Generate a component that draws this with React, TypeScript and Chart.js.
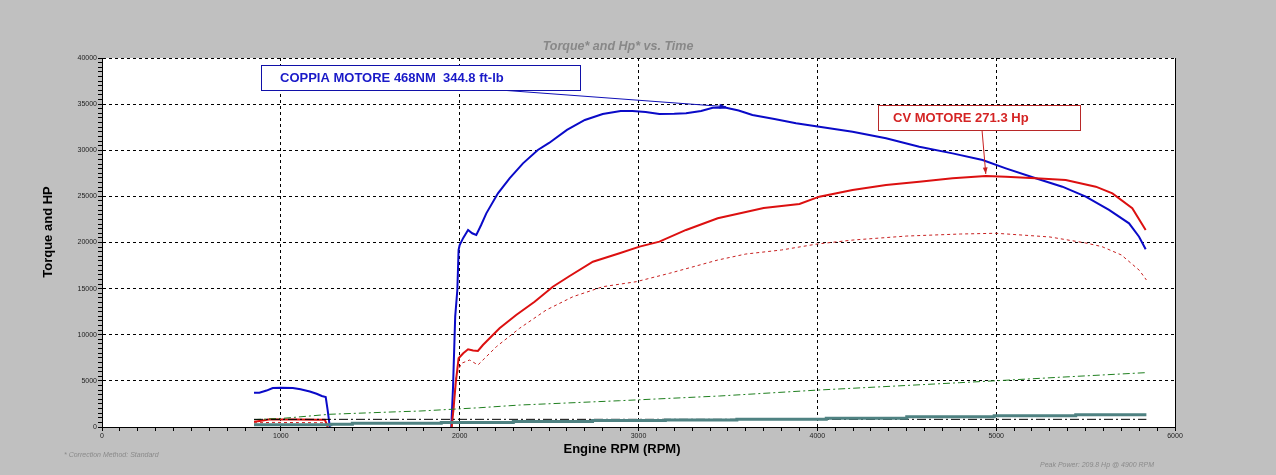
import { useEffect, useRef } from 'react';
import { Chart, registerables } from 'chart.js';

Chart.register(...registerables);

// axis ranges / tick steps
const X_MIN = 0;
const X_MAX = 6000;
const X_MINOR = 100;
const X_LABEL_STEP = 1000;
const Y_MIN = 0;
const Y_MAX = 40000;
const Y_MINOR = 500;
const Y_LABEL_STEP = 5000;

// blue: torque
const torqueRpm = [850, 880, 920, 955, 1000, 1067, 1110, 1162, 1200, 1229, 1251, 1262, 1274, 1600,
    1953, 1963, 1975, 1987, 1994, 2000, 2020, 2047, 2070, 2093, 2120, 2149, 2214, 2279, 2354, 2437,
    2500, 2600, 2700, 2800, 2900, 2966, 3040, 3117, 3200, 3266, 3350, 3415, 3490, 3560, 3637, 3760,
    3881, 4011, 4197, 4384, 4570, 4756, 4924, 5054, 5221, 5370, 5501, 5631, 5743, 5799, 5836];
const torqueVal = [3720, 3720, 3950, 4230, 4260, 4220, 4100, 3850, 3600, 3360, 3250, 1800, 0, null,
    0, 4370, 11960, 14850, 19190, 19730, 20500, 21360, 21000, 20810, 21900, 23160, 25330, 26960, 28580, 30030,
    30790, 32200, 33280, 33930, 34250, 34250, 34150, 33930, 33950, 34000, 34250, 34610, 34610, 34300, 33820, 33380,
    32920, 32550, 32010, 31290, 30380, 29660, 28940, 28040, 26960, 26050, 24970, 23530, 22080, 20630, 19260];

// red: horsepower
const hpRpm = [850, 900, 939, 1000, 1100, 1200, 1246, 1263, 1600,
    1955, 1965, 1978, 1994, 2020, 2047, 2075, 2102, 2130, 2223, 2316, 2419, 2521, 2615, 2745, 2894,
    3006, 3117, 3266, 3443, 3600, 3700, 3800, 3900, 4011, 4197, 4384, 4570, 4756, 4942, 5054, 5221,
    5389, 5557, 5650, 5761, 5836];
const hpVal = [575, 700, 830, 800, 800, 790, 780, 0, null,
    0, 1840, 4770, 7450, 8000, 8420, 8300, 8240, 8890, 10700, 12140, 13580, 15210, 16370, 17920, 18830,
    19550, 20090, 21360, 22620, 23300, 23740, 23960, 24170, 24970, 25690, 26230, 26590, 26960, 27210, 27130, 26960,
    26770, 26050, 25330, 23710, 21360];

// red dashed: second hp trace
const hp2Rpm = [850, 950, 1100, 1240, 1260, 1600,
    1958, 1978, 1990, 2009, 2056, 2102, 2205, 2335, 2484, 2633, 2801, 2987, 3173, 3443, 3600, 3800,
    4000, 4200, 4500, 4800, 5000, 5300, 5500, 5592, 5700, 5800, 5840];
const hp2Val = [450, 500, 480, 460, 0, null,
    0, 5200, 6000, 6900, 7260, 6720, 8700, 10700, 12680, 14120, 15210, 15750, 16660, 18100, 18750, 19190,
    19840, 20270, 20700, 20920, 21000, 20600, 19950, 19550, 18650, 17000, 15940];

// green dash-dot
const greenRpm = [850, 1011, 1274, 1665, 1777, 2112, 2335, 2894, 3453, 4000, 4793, 4978, 5352, 5836];
const greenVal = [800, 940, 1380, 1660, 1730, 2090, 2380, 2850, 3360, 4000, 4800, 4990, 5390, 5890];

// teal stepped
const tealRpm = [850, 1280, 1400, 1897, 2300, 2743, 3150, 3550, 4050, 4500, 4989, 5445, 5840];
const tealVal = [250, 290, 400, 500, 600, 700, 760, 830, 950, 1100, 1230, 1330, 1330];

// black dash-dot
const blackRpm = [850, 5840];
const blackVal = [830, 830];

const chartTitle = 'Torque* and Hp* vs. Time';
const xTitle = 'Engine RPM (RPM)';
const yTitle = 'Torque and HP';
const torqueNote = 'COPPIA MOTORE 468NM  344.8 ft-lb';
const hpNote = 'CV MOTORE 271.3 Hp';
const torquePeak = { x: 3490, y: 34610 };
const hpPeak = { x: 4942, y: 27210 };
const footLeft = '* Correction Method: Standard';
const footRight = 'Peak Power: 209.8 Hp @ 4900 RPM';

const pts = (xs: number[], ys: (number | null)[]) => xs.map((x, i) => ({ x, y: ys[i] }));

function arrow(ctx: CanvasRenderingContext2D, x1: number, y1: number, x2: number, y2: number, color: string) {
    const ang = Math.atan2(y2 - y1, x2 - x1);
    ctx.strokeStyle = color;
    ctx.fillStyle = color;
    ctx.lineWidth = 1;
    ctx.beginPath();
    ctx.moveTo(x1, y1);
    ctx.lineTo(x2, y2);
    ctx.stroke();
    ctx.beginPath();
    ctx.moveTo(x2, y2);
    ctx.lineTo(x2 - 7 * Math.cos(ang - 0.35), y2 - 7 * Math.sin(ang - 0.35));
    ctx.lineTo(x2 - 7 * Math.cos(ang + 0.35), y2 - 7 * Math.sin(ang + 0.35));
    ctx.closePath();
    ctx.fill();
}

const overlay = {
    id: 'overlay',
    beforeDraw(chart: Chart) {
        const { ctx, chartArea: a } = chart;
        ctx.save();
        ctx.fillStyle = '#ffffff';
        ctx.fillRect(a.left, a.top, a.right - a.left, a.bottom - a.top);
        ctx.restore();
    },
    afterDraw(chart: Chart) {
        const { ctx, chartArea: a, scales } = chart;
        const sx = scales.x;
        const sy = scales.y;
        ctx.save();

        // solid right edge
        ctx.strokeStyle = '#000';
        ctx.lineWidth = 1;
        ctx.beginPath();
        ctx.moveTo(a.right + 0.5, a.top);
        ctx.lineTo(a.right + 0.5, a.bottom);
        ctx.stroke();

        // titles
        ctx.textAlign = 'center';
        ctx.textBaseline = 'middle';
        ctx.fillStyle = '#888888';
        ctx.font = 'italic bold 12.5px "Liberation Sans"';
        ctx.fillText(chartTitle, 618, 47);

        ctx.fillStyle = '#000';
        ctx.font = 'bold 13px "Liberation Sans"';
        ctx.fillText(xTitle, 622, 449);

        ctx.save();
        ctx.translate(48, 232);
        ctx.rotate(-Math.PI / 2);
        ctx.fillText(yTitle, 0, 0);
        ctx.restore();

        // foot notes
        ctx.fillStyle = '#8a8a8a';
        ctx.font = 'italic 7px "Liberation Sans"';
        ctx.textAlign = 'left';
        ctx.fillText(footLeft, 64, 455);
        ctx.fillText(footRight, 1040, 465);

        // torque callout
        arrow(ctx, 500, 90, sx.getPixelForValue(torquePeak.x), sy.getPixelForValue(torquePeak.y) - 1, '#1010b8');
        ctx.fillStyle = '#ffffff';
        ctx.fillRect(261.5, 65.5, 319, 25);
        ctx.strokeStyle = '#1010a8';
        ctx.strokeRect(261.5, 65.5, 319, 25);
        ctx.fillStyle = '#1a1ac8';
        ctx.font = 'bold 13px "Liberation Sans"';
        ctx.fillText(torqueNote, 280, 78);

        // hp callout
        arrow(ctx, 982, 130, sx.getPixelForValue(hpPeak.x), sy.getPixelForValue(hpPeak.y) - 2, '#c82020');
        ctx.fillStyle = '#ffffff';
        ctx.fillRect(878.5, 105.5, 202, 25);
        ctx.strokeStyle = '#b82828';
        ctx.strokeRect(878.5, 105.5, 202, 25);
        ctx.fillStyle = '#d42424';
        ctx.fillText(hpNote, 893, 118);

        ctx.restore();
    },
};

export default function App() {
    const canvasRef = useRef<HTMLCanvasElement>(null);

    useEffect(() => {
        if (!canvasRef.current) return;
        const line = { pointRadius: 0, tension: 0, fill: false, spanGaps: false };
        const chart = new Chart(canvasRef.current, {
            type: 'line',
            data: {
                datasets: [
                    { ...line, label: 'teal', data: pts(tealRpm, tealVal), borderColor: '#4f8282', borderWidth: 3, stepped: true },
                    { ...line, label: 'black', data: pts(blackRpm, blackVal), borderColor: '#000000', borderWidth: 1, borderDash: [9, 3, 2, 3] },
                    { ...line, label: 'green', data: pts(greenRpm, greenVal), borderColor: '#1f7f1f', borderWidth: 1, borderDash: [7, 3, 2, 3] },
                    { ...line, label: 'hp2', data: pts(hp2Rpm, hp2Val), borderColor: '#c82020', borderWidth: 1, borderDash: [3, 3] },
                    { ...line, label: 'hp', data: pts(hpRpm, hpVal), borderColor: '#dc1010', borderWidth: 2 },
                    { ...line, label: 'torque', data: pts(torqueRpm, torqueVal), borderColor: '#0a0ac8', borderWidth: 2 },
                ],
            },
            options: {
                responsive: false,
                animation: false,
                events: [],
                layout: { padding: { top: 58, right: 101, left: 0, bottom: 0 } },
                plugins: { legend: { display: false }, title: { display: false }, tooltip: { enabled: false } },
                scales: {
                    x: {
                        type: 'linear',
                        min: X_MIN,
                        max: X_MAX,
                        afterFit: (s: any) => { s.height = 48; },
                        grid: {
                            color: (c: any) => (c.tick && c.tick.value % X_LABEL_STEP === 0 ? '#000' : 'transparent'),
                            tickColor: '#000',
                            tickWidth: 1,
                            tickLength: 4,
                            lineWidth: 1,
                        },
                        border: { display: true, color: '#000', width: 1, dash: [3, 3] },
                        ticks: {
                            stepSize: X_MINOR,
                            autoSkip: false,
                            maxTicksLimit: 1000,
                            maxRotation: 0,
                            padding: 1,
                            color: '#222',
                            font: { family: 'Liberation Sans', size: 7 },
                            callback: (v: any) => (v % X_LABEL_STEP === 0 ? String(v) : ''),
                        },
                    },
                    y: {
                        type: 'linear',
                        min: Y_MIN,
                        max: Y_MAX,
                        afterFit: (s: any) => { s.width = 102; },
                        grid: {
                            color: (c: any) => (c.tick && c.tick.value % Y_LABEL_STEP === 0 ? '#000' : 'transparent'),
                            tickColor: '#000',
                            tickWidth: 1,
                            tickLength: 4,
                            lineWidth: 1,
                        },
                        border: { display: true, color: '#000', width: 1, dash: [3, 3] },
                        ticks: {
                            stepSize: Y_MINOR,
                            autoSkip: false,
                            maxTicksLimit: 1000,
                            padding: 1,
                            color: '#222',
                            font: { family: 'Liberation Sans', size: 7 },
                            callback: (v: any) => (v % Y_LABEL_STEP === 0 ? String(v) : ''),
                        },
                    },
                },
            },
            plugins: [overlay],
        });
        return () => chart.destroy();
    }, []);

    return (
        <div style={{ position: 'absolute', left: 0, top: 0, width: 1276, height: 475, background: '#c0c0c0' }}>
            <canvas ref={canvasRef} width={1276} height={475} style={{ display: 'block' }} />
        </div>
    );
}
